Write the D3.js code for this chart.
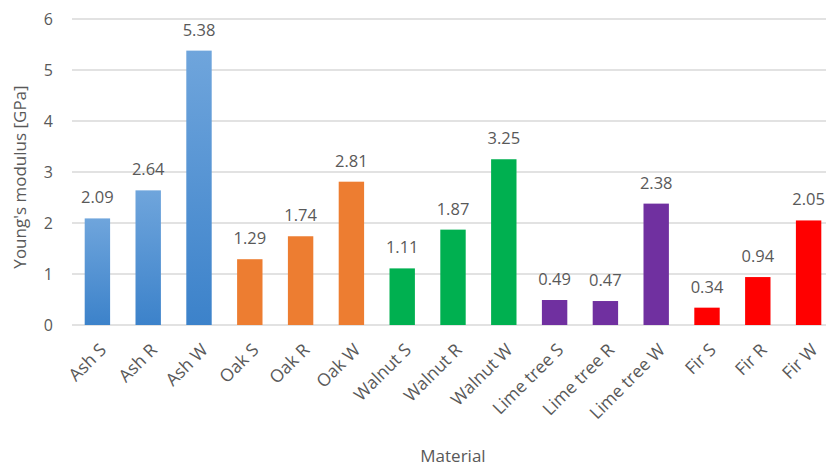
<!DOCTYPE html>
<html><head><meta charset="utf-8">
<script src="https://cdn.jsdelivr.net/npm/d3@7"></script>
<style>body{margin:0;background:#fff}svg{display:block}text{font-family:"Open Sans",sans-serif;fill:#595959}</style>
</head><body><svg id="c" width="826" height="466"></svg>
<script>
const categories = ["Ash S","Ash R","Ash W","Oak S","Oak R","Oak W","Walnut S","Walnut R","Walnut W","Lime tree S","Lime tree R","Lime tree W","Fir S","Fir R","Fir W"];
const values = [2.09,2.64,5.38,1.29,1.74,2.81,1.11,1.87,3.25,0.49,0.47,2.38,0.34,0.94,2.05];
const groups = ["Ash","Ash","Ash","Oak","Oak","Oak","Walnut","Walnut","Walnut","Lime","Lime","Lime","Fir","Fir","Fir"];
const groupColors = {Ash:"url(#blueGrad)",Oak:"#ED7D31",Walnut:"#00B050",Lime:"#7030A0",Fir:"#FF0000"};
const yTicks = [0,1,2,3,4,5,6];

const svg = d3.select("#c");
const defs = svg.append("defs");
const g1 = defs.append("linearGradient").attr("id","blueGrad").attr("x1",0).attr("y1",0).attr("x2",0).attr("y2",1);
g1.append("stop").attr("offset","0%").attr("stop-color","#6fa5dc");
g1.append("stop").attr("offset","100%").attr("stop-color","#3c82ca");

const x = d3.scaleBand().domain(categories).range([72,834]).paddingInner(0.5).paddingOuter(0.25);
const y = d3.scaleLinear().domain([0,6]).range([325,19]);

svg.append("g").selectAll("line").data(yTicks).join("line")
  .attr("x1",72).attr("x2",826).attr("y1",d=>y(d)).attr("y2",d=>y(d))
  .attr("stroke","#d9d9d9").attr("stroke-width",1.3);

svg.append("g").selectAll("text").data(yTicks).join("text")
  .attr("x",53).attr("y",d=>y(d)+6).attr("text-anchor","end").attr("font-size",16).text(d=>d);

svg.append("g").selectAll("rect").data(values).join("rect")
  .attr("x",(d,i)=>x(categories[i])).attr("width",x.bandwidth())
  .attr("y",d=>y(d)).attr("height",d=>y(0)-y(d))
  .attr("fill",(d,i)=>groupColors[groups[i]]);

svg.append("g").selectAll("text").data(values).join("text")
  .attr("x",(d,i)=>x(categories[i])+x.bandwidth()/2).attr("y",d=>y(d)-15)
  .attr("text-anchor","middle").attr("font-size",16.5).text(d=>d.toFixed(2));

svg.append("g").selectAll("text").data(categories).join("text")
  .attr("transform",d=>`translate(${x(d)+x.bandwidth()/2+10},${351}) rotate(-45)`)
  .attr("text-anchor","end").attr("font-size",17.5).text(d=>d);

svg.append("text").attr("transform","translate(26,177) rotate(-90)").attr("text-anchor","middle")
  .attr("font-size",17).text("Young's modulus [GPa]");
svg.append("text").attr("x",453).attr("y",462).attr("text-anchor","middle").attr("font-size",17).text("Material");
</script></body></html>
